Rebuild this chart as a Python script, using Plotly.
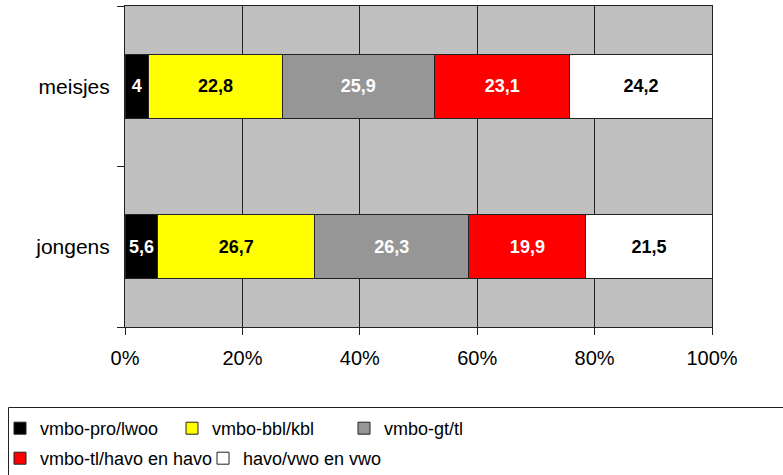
import plotly.graph_objects as go

categories = ["jongens", "meisjes"]
series_names = ["vmbo-pro/lwoo", "vmbo-bbl/kbl", "vmbo-gt/tl", "vmbo-tl/havo en havo", "havo/vwo en vwo"]
vmbo_pro = [5.6, 4]
vmbo_bbl = [26.7, 22.8]
vmbo_gt = [26.3, 25.9]
vmbo_tl_havo = [19.9, 23.1]
havo_vwo = [21.5, 24.2]
tick_vals = [0, 20, 40, 60, 80, 100]
tick_labels = ["0%", "20%", "40%", "60%", "80%", "100%"]

series_values = [vmbo_pro, vmbo_bbl, vmbo_gt, vmbo_tl_havo, havo_vwo]
colors = ["#000000", "#FFFF00", "#969696", "#FF0000", "#FFFFFF"]
text_colors = ["#FFFFFF", "#000000", "#FFFFFF", "#FFFFFF", "#000000"]
legend_rows = ["legend", "legend", "legend", "legend2", "legend2"]

FONT = "Liberation Sans, Arial, sans-serif"
W, H = 783, 475
ML, MR, MT, MB = 125, 71, 6, 148

fig = go.Figure()
for name, vals, col, tcol, lg in zip(series_names, series_values, colors, text_colors, legend_rows):
    fig.add_trace(go.Bar(
        y=categories, x=vals, name=name, orientation="h", legend=lg,
        marker=dict(color=col, line=dict(color="#222222", width=1)),
        text=[("%g" % v).replace(".", ",") for v in vals],
        textposition="inside", insidetextanchor="middle",
        textfont=dict(family=FONT, size=18, color=tcol, weight="bold"),
        constraintext="none",
    ))

pw = W - ML - MR
ph = H - MT - MB
def px_to_paper_x(px):
    return (px - ML) / pw
def py_to_paper_y(py):
    return (H - MB - py) / ph

legend_common = dict(
    orientation="h", xref="container", yref="container",
    xanchor="left", yanchor="top",
    entrywidthmode="pixels",
    font=dict(family=FONT, size=18, color="black"),
    itemwidth=30, tracegroupgap=0, traceorder="normal",
    bgcolor="rgba(0,0,0,0)", borderwidth=0,
)

fig.update_layout(
    width=W, height=H,
    barmode="stack", bargap=0.6,
    margin=dict(l=ML, r=MR, t=MT, b=MB, autoexpand=False),
    paper_bgcolor="white", plot_bgcolor="#C0C0C0",
    font=dict(family=FONT, size=17, color="black"),
    uniformtext=dict(minsize=8, mode="show"),
    showlegend=True,
    legend=dict(legend_common, x=0, y=1 - 410 / H, entrywidth=127),
    legend2=dict(legend_common, x=0, y=1 - 440 / H, entrywidth=158),
    shapes=[dict(
        type="rect", xref="paper", yref="paper",
        x0=px_to_paper_x(8.5), x1=px_to_paper_x(800),
        y0=py_to_paper_y(480), y1=py_to_paper_y(407.5),
        line=dict(color="#222222", width=1), fillcolor="rgba(0,0,0,0)", layer="below",
    )],
)
fig.update_xaxes(
    range=[0, 100], tickvals=tick_vals, ticktext=tick_labels,
    showgrid=True, gridcolor="#222222", gridwidth=1,
    showline=True, linecolor="#222222", linewidth=1, mirror=True,
    ticks="outside", ticklen=7, tickcolor="#222222",
    tickfont=dict(family=FONT, size=20, color="black"),
    zeroline=False, ticklabelstandoff=6,
)
fig.update_yaxes(
    type="category", categoryorder="array", categoryarray=categories,
    showline=True, linecolor="#222222", linewidth=1, mirror=True,
    ticks="outside", ticklen=7, tickcolor="#222222", tickson="boundaries",
    showgrid=False,
    tickfont=dict(family=FONT, size=21, color="black"),
    ticklabelstandoff=10,
)

fig.write_html(
    "out.html",
    config={"displayModeBar": False},
    post_script="document.body.style.margin='0';document.body.style.overflow='hidden';",
)
